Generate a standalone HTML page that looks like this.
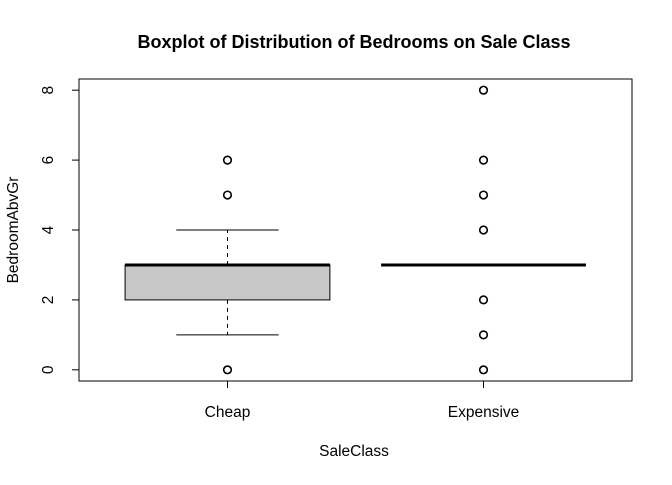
<!DOCTYPE html>
<html><head><meta charset="utf-8"><style>body{margin:0;background:#fff}svg text{font-family:"Liberation Sans",Arial,sans-serif}</style></head>
<body>
<svg width="672" height="480">
<g id="g"></g>
</svg>
<script>
const categories=["Cheap","Expensive"];
const q1=[2,3];
const medians=[3,3];
const q3=[3,3];
const whiskerLow=[1,3];
const whiskerHigh=[4,3];
const outliers=[[0,5,6],[0,1,2,4,5,6,8]];
const yTicks=[0,2,4,6,8];
const NS="http://www.w3.org/2000/svg";
const L=79,R=632,T=79,B=381;
const ymin=-0.32,ymax=8.32,xmin=0.42,xmax=2.58;
const y=v=>B-(v-ymin)/(ymax-ymin)*(B-T);
const x=v=>L+(v-xmin)/(xmax-xmin)*(R-L);
const g=document.getElementById('g');
function el(t,a,txt){const e=document.createElementNS(NS,t);for(const k in a)e.setAttribute(k,a[k]);if(txt!==undefined)e.textContent=txt;g.appendChild(e);return e;}
let e;
e=el('text',{x:354,y:48,'text-anchor':'middle','font-size':18,'font-weight':'bold'},'Boxplot of Distribution of Bedrooms on Sale Class');


e=el('text',{x:354,y:456,'text-anchor':'middle','font-size':15.5},'SaleClass');


e=el('text',{x:0,y:0,'text-anchor':'middle','font-size':15.5,transform:'translate(18,'+((T+B)/2)+') rotate(-90)'},'BedroomAbvGr');


yTicks.forEach(v=>{
 e=el('line',{x1:72,x2:L,y1:y(v),y2:y(v),stroke:'#000'});
 
 
 e=el('text',{x:0,y:0,'text-anchor':'middle','font-size':15.5,transform:'translate(53,'+y(v)+') rotate(-90)'},String(v));
 
 
});
categories.forEach((c,i)=>{
 const cx=x(i+1),hw=(x(1.4)-x(1));
 e=el('line',{x1:cx,x2:cx,y1:B,y2:B+7,stroke:'#000'});
 
 
 e=el('text',{x:cx,y:417,'text-anchor':'middle','font-size':15.5},c);
 
 
 e=el('line',{x1:cx,x2:cx,y1:y(q3[i]),y2:y(whiskerHigh[i]),stroke:'#000','stroke-dasharray':'4,4'});
 
 
 e=el('line',{x1:cx,x2:cx,y1:y(q1[i]),y2:y(whiskerLow[i]),stroke:'#000','stroke-dasharray':'4,4'});
 
 
 e=el('line',{x1:cx-hw/2,x2:cx+hw/2,y1:y(whiskerHigh[i]),y2:y(whiskerHigh[i]),stroke:'#000'});
 
 
 e=el('line',{x1:cx-hw/2,x2:cx+hw/2,y1:y(whiskerLow[i]),y2:y(whiskerLow[i]),stroke:'#000'});
 
 
 e=el('rect',{x:cx-hw,y:y(q3[i]),width:2*hw,height:y(q1[i])-y(q3[i]),fill:'#c8c8c8',stroke:'#000'});
 
 
 e=el('line',{x1:cx-hw,x2:cx+hw,y1:y(medians[i]),y2:y(medians[i]),stroke:'#000','stroke-width':3});
 
 
 outliers[i].forEach(v=>{
  e=el('circle',{cx:cx,cy:y(v),r:3.8,fill:'none',stroke:'#000','stroke-width':1.6});
  
  
 });
});
e=el('rect',{x:L,y:T,width:R-L,height:B-T,fill:'none',stroke:'#000'});


</script>
</body></html>
